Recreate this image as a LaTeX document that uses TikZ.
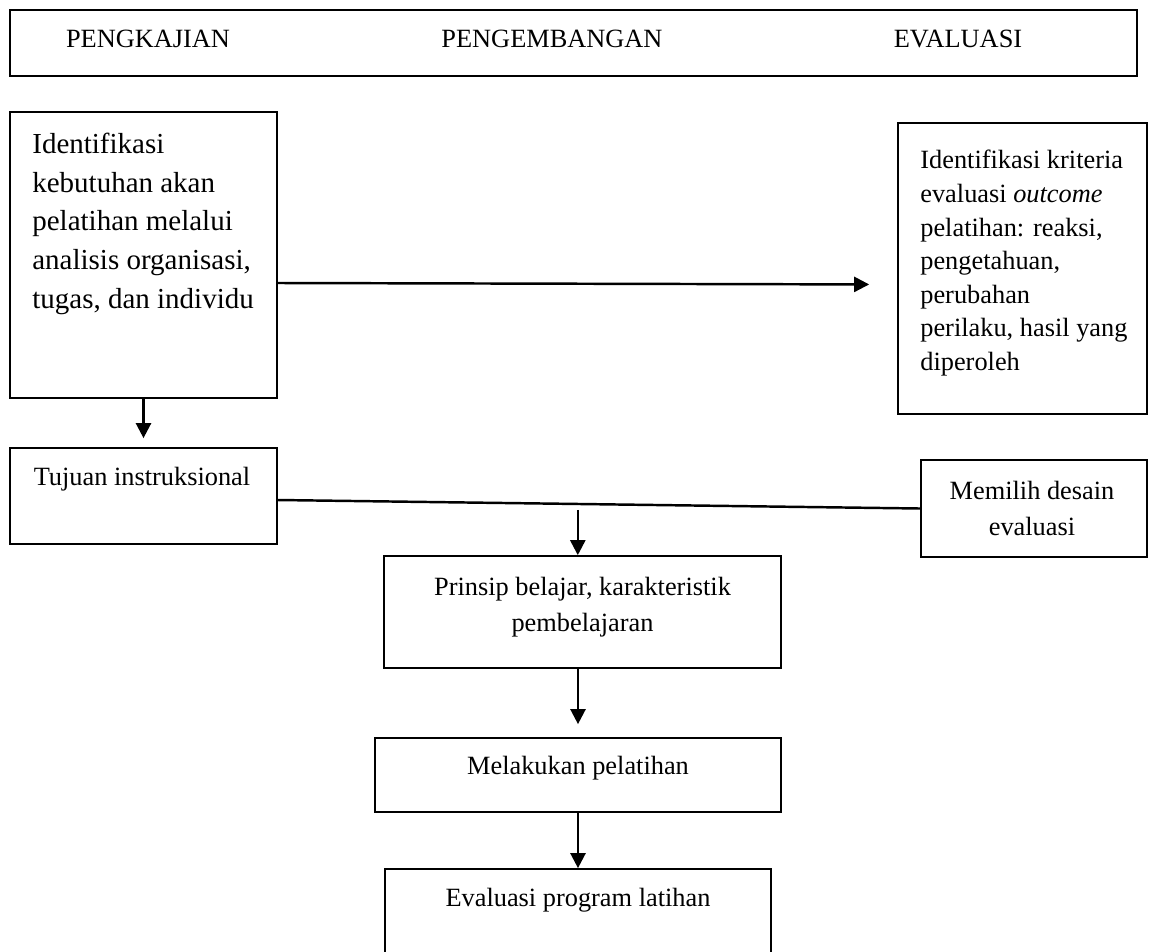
\documentclass[tikz,border=0pt]{standalone}
\usepackage{fontspec}
\setmainfont{Liberation Serif}
\usetikzlibrary{calc,arrows.meta,positioning}

\tikzset{
  kotak/.style={draw, line width=1pt, inner sep=0pt},
  teks/.style={inner sep=0pt, font=\fontsize{15pt}{20.4pt}\selectfont},
  teksbesar/.style={inner sep=0pt, font=\fontsize{16.5pt}{21.95pt}\selectfont},
  panah/.style={line width=1.4pt, -{Triangle[length=0.3cm,width=0.3cm]}}
}

\begin{document}
\begin{tikzpicture}[x=0.02cm,y=-0.02cm]
			\useasboundingbox (0,0) rectangle (1149,951);
			\node[kotak, minimum width=22.54cm, minimum height=1.32cm] (tahap) at (573.5,43) {};
			\foreach \x/\nama/\judul in {148/kaji/PENGKAJIAN,552/kembang/PENGEMBANGAN,958/eval/EVALUASI}
			\node[teks, anchor=base] (\nama) at (\x,47.5) {\judul};
			
			\node[kotak, minimum width=5.34cm, minimum height=5.72cm] (kebutuhan) at (143.5,255) {};
			\node[kotak, minimum width=4.98cm, minimum height=5.82cm] (kriteria) at (1022.5,268.5) {};
			\node[kotak, minimum width=5.34cm, minimum height=1.92cm] (tujuan) at (143.5,496) {};
			\node[kotak, minimum width=4.52cm, minimum height=1.94cm] (desain) at (1034,508.5) {};
			\node[kotak, minimum width=7.94cm, minimum height=2.24cm] (prinsip) at (582.5,612) {};
			\node[kotak, minimum width=8.12cm, minimum height=1.48cm] (latih) at (578,775) {};
			\node[kotak, minimum width=7.72cm, minimum height=1.92cm] (program) at (578,917) {};
			
			\node[teksbesar, anchor=north west, align=left] (kebutuhan-t) at (32,133) {Identifikasi\\kebutuhan akan\\pelatihan melalui\\analisis organisasi,\\tugas, dan individu};
			\node[teks, anchor=north west, align=left, font=\fontsize{15pt}{19.1pt}\selectfont] (kriteria-t) at (920,150) {Identifikasi kriteria\\evaluasi \textit{outcome}\\pelatihan: reaksi,\\pengetahuan,\\perubahan\\perilaku, hasil yang\\diperoleh};
			\node[teks, anchor=base] (tujuan-t) at (142,485) {Tujuan instruksional};
			\node[teks, anchor=north, align=center] (desain-t) at (1032,481) {Memilih desain\\evaluasi};
			\node[teks, anchor=north, align=center] (prinsip-t) at (582.5,577) {Prinsip belajar, karakteristik\\pembelajaran};
			\node[teks, anchor=base] (latih-t) at (578,774) {Melakukan pelatihan};
			\node[teks, anchor=base] (program-t) at (578,906) {Evaluasi program latihan};
			
			\draw[panah, shorten >=0.18cm] (kebutuhan.south) -- (tujuan.north);
			\draw[panah, shorten >=0.56cm] ([yshift=-0.56cm]kebutuhan.east) -- ([yshift=-0.32cm]kriteria.west);
			\draw[line width=1.4pt] ([yshift=-0.08cm]tujuan.east) -- coordinate[pos=0.467] (cabang) (desain.west);
			\draw[panah, shorten <=0.12cm] (cabang) -- (cabang |- prinsip.north);
			\draw[panah, shorten >=0.26cm] (prinsip.south -| latih.north) -- (latih.north);
			\draw[panah] (latih.south) -- (program.north);
\end{tikzpicture}
\end{document}
